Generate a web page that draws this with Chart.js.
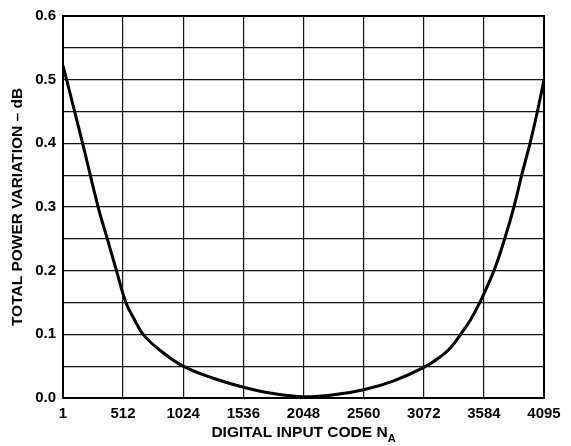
<!DOCTYPE html>
<html>
<head>
<meta charset="utf-8">
<script src="https://cdn.jsdelivr.net/npm/chart.js@4"></script>
<style>
  html, body { margin: 0; padding: 0; background: #fff; }
  #wrap { width: 571px; height: 446px; }
</style>
</head>
<body>
<div id="wrap"><canvas id="powerChart"></canvas></div>
<script>
// values
var codes = [1, 168, 300, 378, 456, 536, 604, 683, 826, 1024, 1280, 1536, 1792, 2048,
             2304, 2560, 2816, 3072, 3214, 3300, 3385, 3470, 3556, 3669, 3760, 3839, 3905, 3976, 4039, 4095];
var variation = [0.522, 0.40, 0.30, 0.25, 0.20, 0.15, 0.125, 0.10, 0.075, 0.05, 0.031, 0.017, 0.007, 0.002,
                 0.005, 0.013, 0.027, 0.048, 0.065, 0.079, 0.10, 0.123, 0.153, 0.20, 0.25, 0.30, 0.35, 0.40, 0.45, 0.50];
var xTicks = [1, 512, 1024, 1536, 2048, 2560, 3072, 3584, 4095];

var FONT = 'Liberation Sans, Arial, Helvetica, sans-serif';

var points = codes.map(function(c, i) { return { x: c, y: variation[i] }; });

var frameAndTitles = {
    id: 'frameAndTitles',
    afterDraw: function(chart) {
        var ctx = chart.ctx;
        var a = chart.chartArea;
        ctx.save();
        ctx.strokeStyle = '#000';
        ctx.lineWidth = 2;
        ctx.strokeRect(a.left, a.top, a.right - a.left, a.bottom - a.top);

        ctx.fillStyle = '#000';
        ctx.textBaseline = 'middle';
        // x title with subscript
        var main = 'DIGITAL INPUT CODE N';
        ctx.font = 'bold 15.5px ' + FONT;
        var w1 = ctx.measureText(main).width;
        ctx.font = 'bold 11px ' + FONT;
        var w2 = ctx.measureText('A').width;
        var x0 = (a.left + a.right) / 2 - (w1 + w2) / 2;
        ctx.textAlign = 'left';
        ctx.font = 'bold 15.5px ' + FONT;
        ctx.fillText(main, x0, 433);
        ctx.font = 'bold 11px ' + FONT;
        ctx.fillText('A', x0 + w1, 439);

        // y title
        ctx.font = 'bold 15.5px ' + FONT;
        ctx.textAlign = 'center';
        ctx.translate(18, (a.top + a.bottom) / 2);
        ctx.rotate(-Math.PI / 2);
        ctx.fillText('TOTAL POWER VARIATION \u2013 dB', 0, 0);
        ctx.restore();
    }
};

new Chart(document.getElementById('powerChart'), {
    type: 'line',
    data: {
        datasets: [{
            data: points,
            borderColor: '#000',
            borderWidth: 3,
            pointRadius: 0,
            fill: false,
            tension: 0.4
        }]
    },
    options: {
        responsive: true,
        maintainAspectRatio: false,
        animation: false,
        layout: { padding: { top: 15, right: 27, left: 0, bottom: 0 } },
        plugins: { legend: { display: false }, tooltip: { enabled: false } },
        scales: {
            x: {
                type: 'linear',
                min: 1,
                max: 4095,
                afterBuildTicks: function(axis) {
                    axis.ticks = xTicks.map(function(v) { return { value: v }; });
                },
                afterFit: function(axis) { axis.height = 48; },
                grid: { color: '#111', lineWidth: 1.2, drawTicks: false },
                border: { display: false },
                ticks: {
                    color: '#000',
                    padding: 7,
                    maxRotation: 0,
                    autoSkip: false,
                    font: { family: FONT, size: 15, weight: 'bold' },
                    callback: function(v) { return String(v); }
                }
            },
            y: {
                min: 0,
                max: 0.6,
                afterFit: function(axis) { axis.width = 63; },
                grid: { color: '#111', lineWidth: 1.2, drawTicks: false },
                border: { display: false },
                ticks: {
                    stepSize: 0.05,
                    color: '#000',
                    padding: 7,
                    autoSkip: false,
                    font: { family: FONT, size: 15, weight: 'bold' },
                    callback: function(v) {
                        var k = Math.round(v * 100);
                        return k % 10 === 0 ? (k / 100).toFixed(1) : '';
                    }
                }
            }
        }
    },
    plugins: [frameAndTitles]
});
</script>
</body>
</html>
